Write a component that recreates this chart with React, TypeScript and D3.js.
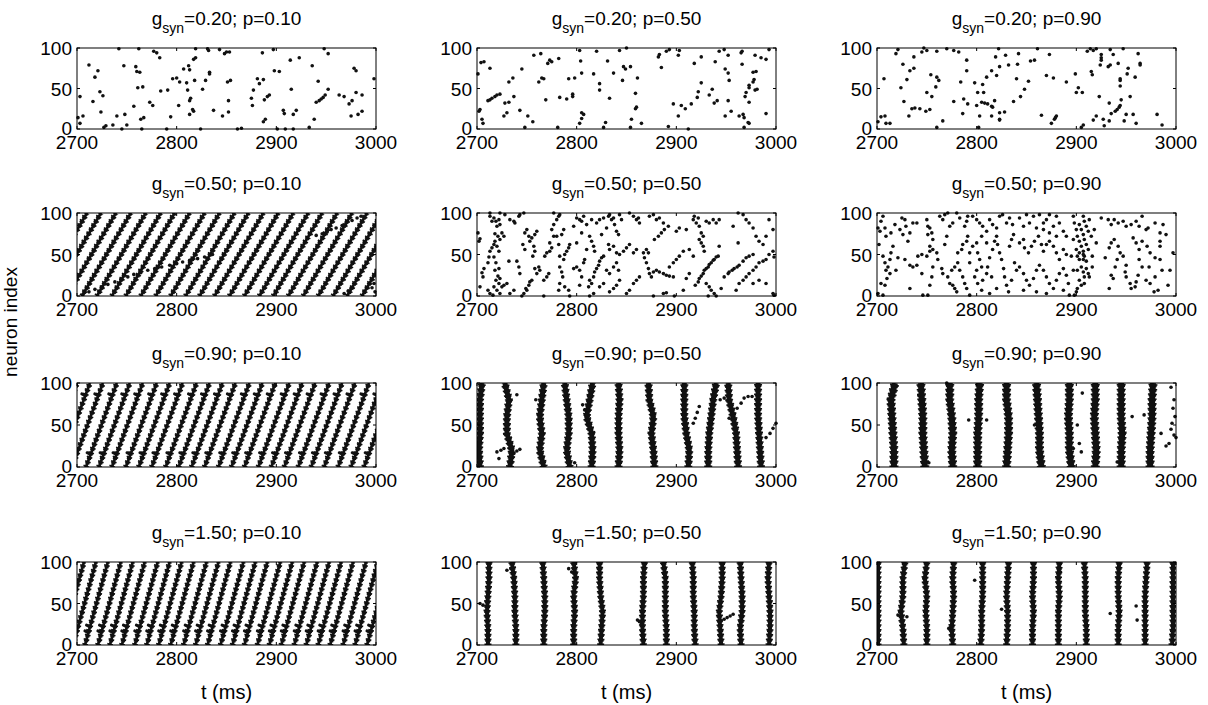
import React from "react";
import * as d3 from "d3";

// raster plots of neuron spikes, 4 coupling strengths x 3 rewiring probabilities
const gsynLabels = ["0.20", "0.50", "0.90", "1.50"];
const pLabels = ["0.10", "0.50", "0.90"];
const xTicks = [2700, 2800, 2900, 3000];
const yTicks = [0, 50, 100];
const burstLevels = [0, 20, 40, 60, 80, 100];

// --- sparse panels: spikes as [t (ms), neuron index] ---
const spikes_020_010 = [
  [2701,14],[2703,40],[2703,7],[2706,16],[2712,79],[2716,34],[2718,64],[2721,72],[2723,46],[2724,21],
  [2726,41],[2727,2],[2729,4],[2736,5],[2740,16],[2742,99],[2747,78],[2748,18],[2745,0],[2750,5],
  [2757,28],[2759,77],[2760,71],[2762,99],[2761,51],[2763,70],[2764,12],[2765,0],[2766,52],[2767,14],
  [2773,33],[2776,29],[2777,96],[2780,94],[2783,88],[2784,47],[2791,48],[2790,0],[2794,15],[2796,62],
  [2800,63],[2802,29],[2803,58],[2807,74],[2810,57],[2811,48],[2812,78],[2813,73],[2813,35],[2813,18],
  [2814,38],[2816,24],[2817,22],[2817,86],[2819,88],[2818,60],[2819,99],[2824,0],[2826,49],[2829,60],
  [2831,99],[2832,97],[2833,70],[2833,68],[2837,23],[2843,98],[2846,16],[2848,93],[2850,95],[2852,21],
  [2853,95],[2854,60],[2852,35],[2851,58],[2861,0],[2865,1],[2875,38],[2876,29],[2877,48],[2881,62],
  [2883,56],[2887,61],[2887,9],[2889,12],[2888,36],[2891,40],[2893,42],[2886,94],[2897,98],[2898,72],
  [2903,71],[2901,0],[2907,23],[2908,19],[2909,0],[2915,49],[2914,85],[2923,88],[2917,18],[2920,23],
  [2917,0],[2933,2],[2936,78],[2938,12],[2940,33],[2943,35],[2945,37],[2947,39],[2942,59],[2949,42],
  [2952,49],[2948,99],[2952,93],[2963,42],[2968,40],[2973,31],[2976,35],[2975,16],[2978,75],[2980,72],
  [2980,45],[2982,18],[2986,22],[2986,42],[2998,62],
];

const spikes_020_050 = [
  [2701,68],[2702,22],[2703,24],[2704,82],[2707,83],[2705,12],[2706,7],[2713,75],[2711,35],[2713,36],
  [2715,38],[2718,40],[2720,42],[2723,43],[2727,16],[2730,20],[2728,32],[2732,33],[2732,58],[2736,63],
  [2737,40],[2743,23],[2745,74],[2748,2],[2751,16],[2756,9],[2757,91],[2762,58],[2764,93],[2765,63],
  [2767,62],[2769,36],[2771,81],[2773,85],[2775,83],[2782,87],[2781,2],[2783,39],[2790,37],[2792,62],
  [2796,40],[2796,43],[2798,63],[2803,97],[2803,7],[2805,13],[2805,20],[2807,18],[2804,84],[2805,69],
  [2817,68],[2820,96],[2823,56],[2823,48],[2827,2],[2829,8],[2831,84],[2833,38],[2837,69],[2843,97],
  [2846,60],[2847,77],[2849,74],[2850,100],[2854,77],[2855,12],[2854,2],[2859,44],[2859,25],[2860,27],
  [2861,63],[2865,7],[2882,89],[2883,92],[2885,76],[2890,96],[2893,98],[2892,3],[2897,31],[2903,97],
  [2902,91],[2902,16],[2905,29],[2909,25],[2912,0],[2915,31],[2918,81],[2922,46],[2921,39],[2925,89],
  [2925,57],[2933,42],[2936,49],[2938,32],[2941,35],[2939,83],[2943,96],[2948,98],[2952,91],[2949,74],
  [2952,69],[2952,35],[2953,60],[2949,16],[2955,22],[2963,16],[2965,94],[2966,96],[2966,80],[2967,18],
  [2968,14],[2968,2],[2969,40],[2972,8],[2973,7],[2970,45],[2973,51],[2973,54],[2973,33],[2977,58],
  [2978,61],[2977,70],[2980,71],[2979,48],[2981,49],[2979,91],[2985,88],[2990,86],[2990,19],[2993,98],
];

const spikes_020_090 = [
  [2701,9],[2704,15],[2708,16],[2709,7],[2713,7],[2707,62],[2719,93],[2721,98],[2726,80],[2724,51],
  [2727,34],[2730,61],[2732,16],[2733,72],[2735,25],[2737,75],[2737,89],[2738,26],[2743,25],[2745,95],
  [2747,100],[2749,22],[2750,97],[2750,45],[2753,24],[2754,67],[2755,40],[2760,2],[2759,52],[2760,96],
  [2760,64],[2762,60],[2766,10],[2770,99],[2777,97],[2782,95],[2777,34],[2784,58],[2786,19],[2787,37],
  [2790,85],[2790,72],[2791,31],[2798,57],[2800,29],[2802,2],[2801,45],[2803,16],[2805,33],[2806,55],
  [2807,45],[2808,32],[2810,64],[2811,31],[2815,28],[2815,72],[2815,16],[2816,27],[2818,35],[2819,89],
  [2820,66],[2822,99],[2823,77],[2823,20],[2823,12],[2823,11],[2828,21],[2829,91],[2832,79],[2837,34],
  [2840,62],[2841,80],[2842,93],[2844,40],[2848,49],[2852,59],[2854,84],[2858,85],[2861,99],[2865,17],
  [2870,66],[2873,92],[2875,7],[2877,63],[2878,12],[2879,14],[2880,16],[2890,58],[2899,68],[2900,45],
  [2902,51],[2906,45],[2905,2],[2907,5],[2911,96],[2914,99],[2915,71],[2916,67],[2917,97],[2920,99],
  [2917,11],[2920,16],[2923,40],[2925,92],[2925,88],[2925,85],[2924,79],[2927,12],[2928,4],[2932,77],
  [2934,79],[2934,98],[2933,32],[2933,10],[2935,19],[2937,92],[2939,22],[2941,24],[2943,27],[2942,81],
  [2944,29],[2944,62],[2944,53],[2944,60],[2945,36],[2947,99],[2948,10],[2950,18],[2951,68],[2952,75],
  [2954,40],[2957,18],[2959,64],[2960,7],[2962,93],[2964,81],[2964,79],[2981,18],[2986,5],
];

const spikes_050_050 = [
  [2701,76],[2702,66],[2703,69],[2705,28],[2706,23],[2703,11],[2707,33],[2711,40],[2711,7],[2713,3],
  [2712,47],[2713,54],[2715,58],[2717,62],[2713,96],[2715,90],[2717,94],[2719,90],[2720,84],[2722,92],
  [2718,75],[2721,72],[2723,68],[2718,66],[2720,60],[2722,54],[2717,47],[2719,40],[2722,33],[2718,31],
  [2721,24],[2719,19],[2722,15],[2717,11],[2720,7],[2723,3],[2716,1],[2723,21],[2725,11],[2727,13],
  [2730,15],[2723,86],[2725,76],[2727,72],[2728,98],[2723,100],[2713,100],
  [2733,92],[2737,90],[2738,88],[2742,96],[2743,98],[2747,100],[2746,62],[2748,76],[2750,80],[2752,72],
  [2753,66],[2755,70],[2757,60],[2758,54],[2756,48],[2758,33],[2760,27],[2762,35],[2763,31],[2755,19],
  [2752,13],[2749,9],[2747,3],[2745,0],[2750,7],[2753,17],[2743,27],[2742,35],[2740,42],[2748,56],
  [2758,74],[2760,78],[2737,7],[2733,3],[2767,0],[2732,42],
  [2767,19],[2770,23],[2772,27],[2768,48],[2770,52],[2773,54],[2775,58],[2773,64],[2777,72],[2775,80],
  [2777,86],[2780,92],[2782,96],[2783,98],[2777,100],[2780,72],[2782,62],[2783,48],[2783,35],[2785,29],
  [2786,23],[2783,15],[2782,7],[2787,44],[2788,50],[2790,54],[2792,58],[2793,62],[2785,74],[2787,80],
  [2788,11],[2792,7],[2793,0],[2797,33],[2800,35],[2803,31],[2800,94],[2803,92],[2805,90],[2807,96],
  [2797,84],[2805,76],[2800,64],[2808,44],[2807,40],[2810,56],[2805,23],[2803,13],
  [2812,11],[2813,19],[2815,15],[2817,23],[2818,29],[2820,33],[2822,37],[2817,3],[2813,0],[2823,42],
  [2825,46],[2827,48],[2813,72],[2815,66],[2817,60],[2818,54],[2820,88],[2823,92],[2827,94],[2815,92],
  [2810,86],[2825,74],[2830,82],[2832,96],[2833,98],[2835,92],[2837,94],[2838,86],[2840,78],[2842,74],
  [2843,98],[2845,92],[2832,62],[2833,56],[2837,60],[2840,52],[2843,50],[2847,54],[2850,58],[2853,62],
  [2830,31],[2833,27],[2837,35],[2840,40],[2842,31],[2843,19],[2840,13],[2837,9],[2833,5],[2823,11],
  [2827,15],[2857,15],[2860,19],[2863,23],[2853,7],[2850,3],[2857,52],[2860,56],[2857,96],[2860,92],
  [2862,94],[2863,88],[2853,100],
  [2867,52],[2868,46],[2870,40],[2872,33],[2873,27],[2875,23],[2877,29],[2872,52],[2870,56],[2873,96],
  [2877,98],[2880,92],[2883,94],[2887,88],[2878,68],[2882,72],[2885,76],[2888,80],[2892,84],[2880,31],
  [2883,29],[2887,27],[2890,25],[2893,24],[2897,23],[2887,3],[2890,4],[2893,35],[2897,40],[2900,44],
  [2903,48],[2907,54],[2900,78],[2903,82],[2910,80],[2907,7],[2910,21],[2913,27],[2898,0],[2877,0],
  [2913,56],
  [2917,92],[2918,96],[2920,88],[2922,94],[2923,84],[2925,76],[2927,72],[2923,68],[2925,64],[2927,60],
  [2928,54],[2930,90],[2933,88],[2937,92],[2940,88],[2943,92],[2919,13],[2922,17],[2923,21],[2925,24],
  [2927,27],[2928,31],[2930,33],[2932,35],[2933,38],[2935,40],[2937,43],[2938,44],[2940,47],[2942,48],
  [2930,15],[2933,11],[2935,7],[2938,3],[2940,0],[2932,0],[2945,9],[2948,23],[2952,27],[2953,29],
  [2956,31],[2917,48],[2943,60],
  [2958,33],[2961,35],[2963,37],[2967,42],[2970,46],[2973,48],[2977,50],[2963,15],[2967,19],[2970,23],
  [2973,27],[2977,31],[2980,35],[2983,40],[2987,42],[2990,44],[2993,50],[2997,54],[2998,47],[2960,7],
  [2967,98],[2970,92],[2973,88],[2977,82],[2980,72],[2983,66],[2987,62],[2990,72],[2993,92],[2997,80],
  [2957,84],[2962,64],[2977,15],[2983,19],[2990,15],[2997,3],[2998,1],[2962,100],
];

const spikes_050_090 = [
  [2701,82],[2703,78],[2702,62],[2704,90],[2706,96],[2708,82],[2709,72],[2706,48],[2708,40],[2709,31],
  [2711,35],[2713,27],[2710,21],[2704,15],[2708,13],[2701,3],[2706,1],[2713,44],[2714,52],[2716,60],
  [2714,76],[2718,86],[2723,80],[2726,74],[2729,84],[2728,92],[2725,94],[2733,76],[2736,88],[2740,88],
  [2731,66],[2721,46],[2719,31],[2733,9],[2736,35],[2740,37],[2741,48],[2745,50],[2733,37],[2728,44],
  [2745,27],[2746,1],
  [2750,92],[2751,84],[2753,82],[2755,76],[2751,74],[2756,68],[2753,60],[2750,48],[2753,54],[2756,56],
  [2760,52],[2761,44],[2756,35],[2755,23],[2753,13],[2751,1],[2763,96],[2766,92],[2768,98],[2771,100],
  [2773,84],[2776,88],[2770,72],[2768,62],[2765,33],[2766,27],[2771,23],[2773,15],[2776,13],[2778,9],
  [2780,5],[2775,31],[2778,35],[2781,40],[2783,31],[2786,23],[2788,15],[2790,9],[2781,52],[2785,56],
  [2786,62],[2790,66],[2791,72],[2788,84],[2790,90],[2791,96],[2783,94],[2780,100],[2793,52],[2793,40],
  [2793,1],
  [2796,96],[2800,92],[2803,88],[2806,84],[2810,78],[2813,92],[2816,86],[2820,82],[2823,96],[2826,98],
  [2830,88],[2833,94],[2836,86],[2796,60],[2800,64],[2801,52],[2803,44],[2805,35],[2800,31],[2798,23],
  [2801,15],[2805,7],[2806,19],[2810,27],[2811,35],[2813,46],[2816,56],[2818,66],[2820,72],[2821,62],
  [2823,52],[2825,44],[2827,33],[2828,23],[2830,13],[2832,5],[2813,3],[2820,9],[2833,60],[2835,68],
  [2837,74],[2838,40],[2840,31],[2810,64],[2815,23],[2805,72],[2835,19],
  [2843,94],[2847,84],[2850,98],[2853,88],[2857,96],[2860,82],[2863,98],[2867,88],[2870,92],[2873,98],
  [2877,84],[2880,96],[2883,88],[2887,78],[2890,72],[2843,64],[2847,68],[2848,58],[2852,52],[2855,60],
  [2858,66],[2862,72],[2865,62],[2867,54],[2870,62],[2873,66],[2877,60],[2880,52],[2883,44],[2887,56],
  [2890,50],[2843,35],[2847,27],[2850,19],[2853,13],[2857,21],[2860,31],[2863,37],[2867,31],[2870,23],
  [2873,15],[2877,9],[2880,19],[2883,27],[2887,33],[2890,25],[2892,15],[2847,7],[2860,5],[2870,3],
  [2887,7],[2893,1],[2867,80],[2873,76],[2880,72],
  [2897,96],[2898,88],[2900,80],[2901,72],[2903,66],[2905,60],[2907,54],[2908,48],[2910,42],[2907,96],
  [2908,90],[2910,84],[2912,78],[2907,74],[2903,86],[2905,80],[2908,68],[2910,62],[2912,56],[2907,44],
  [2905,35],[2907,29],[2908,23],[2903,19],[2905,13],[2901,9],[2900,5],[2898,1],[2910,33],[2912,27],
  [2908,15],[2907,50],[2903,44],[2901,31],[2913,92],[2915,72],[2916,48],[2913,23],[2897,31],[2895,48],
  [2897,68],[2918,80],[2920,64],[2916,35],[2900,56],[2901,48],[2903,52],
  [2925,94],[2932,92],[2935,86],[2938,92],[2942,88],[2947,90],[2950,84],[2955,86],[2960,90],[2963,84],
  [2966,96],[2970,80],[2972,82],[2979,88],[2984,76],[2987,86],[2990,74],[2929,46],[2933,58],[2935,64],
  [2938,68],[2942,60],[2944,52],[2941,44],[2939,35],[2935,25],[2937,21],[2947,48],[2950,37],[2949,29],
  [2950,23],[2954,15],[2955,9],[2959,11],[2960,17],[2962,25],[2933,9],[2957,70],[2960,64],[2963,56],
  [2966,66],[2971,60],[2974,52],[2979,46],[2984,44],[2984,60],[2984,66],[2986,31],[2979,23],[2974,15],
  [2970,19],[2978,5],[2982,7],[2994,31],[2992,13],[2973,35],[2966,35],[2963,44],[2997,52],
];

// --- travelling waves: onset time at neuron 0 and sweep time to neuron 100 ---
const waveOnsets_050_010 = [
  2661, 2675, 2690, 2705, 2720, 2735, 2749, 2764, 2779, 2794, 2809, 2823,
  2838, 2853, 2868, 2883, 2897, 2912, 2927, 2942, 2957, 2971, 2986,
];
const waveSweep_050_010 = 49;
const waveExtra_050_010 = [
  [2706,2],[2712,5],[2718,8],[2725,11],[2731,14],[2738,17],[2744,20],[2751,23],[2757,26],[2764,28],
  [2771,31],[2778,33],[2785,35],[2793,37],[2800,39],[2806,41],[2813,43],[2821,45],[2828,47],[2836,50],
  [2940,73],[2946,75],[2951,77],[2955,80],[2960,82],[2966,85],[2970,88],[2976,91],[2981,94],[2985,96],
  [2968,3],[2972,6],[2975,9],[2998,15],[2996,10],[2999,5],
];

const waveOnsets_090_010 = [
  2669, 2682, 2695, 2709, 2722, 2735, 2749, 2762, 2775, 2789, 2802, 2815, 2828,
  2842, 2855, 2868, 2882, 2895, 2908, 2922, 2935, 2948, 2962, 2975, 2988,
];
const waveSweep_090_010 = 31;

const waveOnsets_150_010 = [
  2671, 2684, 2696, 2708, 2721, 2733, 2745, 2758, 2770, 2782, 2794, 2807, 2819, 2831,
  2844, 2856, 2868, 2881, 2893, 2905, 2918, 2930, 2942, 2954, 2967, 2979, 2991,
];
const waveSweep_150_010 = 23;

// --- synchronous bursts: spike time of the burst at neuron levels burstLevels ---
const bursts_090_050 = [
  [2703, 2702, 2703, 2703, 2703, 2705],
  [2733, 2735, 2730, 2730, 2732, 2728],
  [2767, 2763, 2765, 2763, 2765, 2767],
  [2793, 2790, 2792, 2792, 2790, 2788],
  [2815, 2816, 2815, 2810, 2813, 2816],
  [2842, 2843, 2842, 2842, 2843, 2842],
  [2878, 2877, 2875, 2877, 2873, 2872],
  [2912, 2913, 2910, 2908, 2908, 2908],
  [2932, 2932, 2933, 2935, 2937, 2940],
  [2962, 2961, 2960, 2957, 2953, 2952],
  [2985, 2984, 2983, 2982, 2982, 2982],
];
const burstExtra_090_050 = [
  [2720,18],[2724,20],[2727,22],[2737,16],[2740,19],[2743,21],[2722,10],[2917,52],[2919,58],[2921,65],
  [2923,72],[2953,58],[2957,64],[2961,70],[2965,76],[2968,82],[2972,84],[2976,84],[2990,35],[2994,40],
  [2997,46],[3000,52],[2944,80],[2948,82],[2808,68],[2806,74],[2812,72],[2798,5],[2759,80],[2740,86],
];

const bursts_090_090 = [
  [2717, 2717, 2716, 2715, 2714, 2718],
  [2748, 2747, 2746, 2746, 2745, 2744],
  [2776, 2775, 2776, 2775, 2773, 2773],
  [2801, 2801, 2801, 2802, 2802, 2803],
  [2830, 2831, 2832, 2832, 2830, 2830],
  [2865, 2863, 2863, 2862, 2861, 2860],
  [2895, 2893, 2893, 2892, 2893, 2893],
  [2919, 2920, 2919, 2918, 2919, 2919],
  [2945, 2945, 2946, 2945, 2945, 2945],
  [2974, 2974, 2975, 2976, 2976, 2977],
];
const burstExtra_090_090 = [
  [2995,95],[2998,80],[2997,70],[2999,60],[2996,52],[2995,45],[2998,38],[2990,25],[2985,40],[2993,28],
  [3000,35],[2897,22],[2903,28],[2905,18],[2901,50],[2906,88],[2752,5],[2742,85],[2770,100],[2792,56],
  [2810,56],[2858,50],[2956,60],[2968,62],[2941,6],
];

const bursts_150_050 = [
  [2711, 2711, 2710, 2711, 2712, 2712],
  [2739, 2739, 2738, 2738, 2737, 2735],
  [2767, 2767, 2768, 2768, 2767, 2766],
  [2797, 2797, 2798, 2797, 2799, 2797],
  [2824, 2825, 2826, 2824, 2823, 2823],
  [2867, 2866, 2866, 2867, 2867, 2868],
  [2890, 2890, 2889, 2889, 2889, 2887],
  [2919, 2918, 2918, 2917, 2917, 2916],
  [2945, 2944, 2943, 2945, 2946, 2946],
  [2965, 2964, 2966, 2966, 2965, 2964],
  [2993, 2994, 2994, 2993, 2992, 2993],
];
const burstExtra_150_050 = [
  [2703,50],[2706,48],[2861,30],[2863,28],[2865,25],[2945,29],[2948,31],[2951,33],[2954,35],[2957,37],
  [2792,92],[2795,88],[2734,92],[2730,90],
];

const bursts_150_090 = [
  [2701, 2701, 2701, 2701, 2701, 2701],
  [2727, 2726, 2724, 2726, 2726, 2728],
  [2750, 2750, 2749, 2750, 2748, 2750],
  [2776, 2775, 2776, 2777, 2776, 2777],
  [2804, 2805, 2805, 2806, 2806, 2806],
  [2830, 2831, 2831, 2830, 2831, 2832],
  [2856, 2856, 2857, 2856, 2857, 2857],
  [2882, 2882, 2882, 2883, 2882, 2883],
  [2910, 2910, 2909, 2909, 2909, 2908],
  [2942, 2942, 2943, 2942, 2942, 2943],
  [2969, 2969, 2969, 2969, 2970, 2971],
  [2996, 2997, 2997, 2997, 2997, 2997],
];
const burstExtra_150_090 = [
  [2721,36],[2730,34],[2723,40],[2798,78],[2825,43],[2772,20],[2934,38],[2960,47],[2961,30],[2884,88],
];

type Pt = number[];
type Spec =
  | { kind: "dots"; dots: Pt[] }
  | { kind: "waves"; onsets: number[]; sweep: number; jogs: number[]; extra: Pt[] }
  | { kind: "bursts"; bursts: number[][]; width: number; extra: Pt[] };

const specs: Spec[][] = [
  [
    { kind: "dots", dots: spikes_020_010 },
    { kind: "dots", dots: spikes_020_050 },
    { kind: "dots", dots: spikes_020_090 },
  ],
  [
    { kind: "waves", onsets: waveOnsets_050_010, sweep: waveSweep_050_010, jogs: [], extra: waveExtra_050_010 },
    { kind: "dots", dots: spikes_050_050 },
    { kind: "dots", dots: spikes_050_090 },
  ],
  [
    { kind: "waves", onsets: waveOnsets_090_010, sweep: waveSweep_090_010, jogs: [15, 85], extra: [] },
    { kind: "bursts", bursts: bursts_090_050, width: 5, extra: burstExtra_090_050 },
    { kind: "bursts", bursts: bursts_090_090, width: 6, extra: burstExtra_090_090 },
  ],
  [
    { kind: "waves", onsets: waveOnsets_150_010, sweep: waveSweep_150_010, jogs: [15, 22], extra: [] },
    { kind: "bursts", bursts: bursts_150_050, width: 4, extra: burstExtra_150_050 },
    { kind: "bursts", bursts: bursts_150_090, width: 4, extra: burstExtra_150_090 },
  ],
];

const FONT = "'Liberation Sans', Arial, Helvetica, sans-serif";
const INK = "#111";
const colLeft = [77, 477, 877];
const panelW = 299;
const rowTop = [48, 213, 383, 562];
const rowH = [81, 83, 84, 83];
const R = 1.8;

// a band of spikes: solid core plus a ragged dashed fringe
function Band({ d, w }: { d: string; w: number }) {
  return (
    <g fill="none" stroke={INK} strokeLinejoin="round">
      <path d={d} strokeWidth={w + 3} strokeDasharray="1.6 3.2" />
      <path d={d} strokeWidth={w + 1.6} strokeDasharray="2.2 2.6" strokeDashoffset={1.5} />
      <path d={d} strokeWidth={w} />
    </g>
  );
}

function Panel({ r, c }: { r: number; c: number }) {
  const x0 = colLeft[c];
  const y0 = rowTop[r];
  const h = rowH[r];
  const spec = specs[r][c];
  const xs = d3.scaleLinear().domain([2700, 3000]).range([x0, x0 + panelW]);
  const ys = d3.scaleLinear().domain([0, 100]).range([y0 + h, y0]);
  const line = d3.line<Pt>().x((d) => xs(d[0])).y((d) => ys(d[1]));
  const clipId = `clip-${r}-${c}`;
  const dotClip = `dclip-${r}-${c}`;

  const dots: Pt[] = spec.kind === "dots" ? spec.dots : spec.extra;

  return (
    <g>
      <defs>
        <clipPath id={clipId}>
          <rect x={x0} y={y0} width={panelW} height={h} />
        </clipPath>
        <clipPath id={dotClip}>
          <rect x={x0 - 2} y={y0 - 2} width={panelW + 4} height={h + 4} />
        </clipPath>
      </defs>
      <rect x={x0} y={y0} width={panelW} height={h} fill="#fff" />
      <g clipPath={`url(#${clipId})`}>
        {spec.kind === "waves" &&
          spec.onsets.map((t0, i) => (
            <g key={i}>
              <Band d={line([[t0, 0], [t0 + spec.sweep, 100]]) || ""} w={2.8} />
              {spec.jogs.map((lv, j) => {
                const tc = t0 + (spec.sweep * lv) / 100;
                return (
                  <path
                    key={j}
                    d={line([[tc - 3.5, lv + 2], [tc, lv]]) || ""}
                    stroke={INK}
                    strokeWidth={3}
                    strokeLinecap="round"
                    fill="none"
                  />
                );
              })}
            </g>
          ))}
        {spec.kind === "bursts" &&
          spec.bursts.map((b, i) => (
            <Band key={i} d={line(b.map((t, k) => [t, burstLevels[k]])) || ""} w={spec.width} />
          ))}
      </g>
      <g clipPath={`url(#${dotClip})`}>
        {dots.map((d, i) => (
          <circle key={i} cx={xs(d[0])} cy={ys(d[1])} r={R} fill={INK} />
        ))}
      </g>
      <rect x={x0} y={y0} width={panelW} height={h} fill="none" stroke="#000" strokeWidth={1} />
      {xTicks.map((t) => (
        <g key={t}>
          <line x1={xs(t)} x2={xs(t)} y1={y0 + h} y2={y0 + h - 3} stroke="#000" />
          <line x1={xs(t)} x2={xs(t)} y1={y0} y2={y0 + 3} stroke="#000" />
          <text x={xs(t)} y={y0 + h + 20} textAnchor="middle" fontSize={19} fontFamily={FONT}>
            {t}
          </text>
        </g>
      ))}
      {yTicks.map((n) => (
        <g key={n}>
          <line x1={x0} x2={x0 + 3} y1={ys(n)} y2={ys(n)} stroke="#000" />
          <line x1={x0 + panelW} x2={x0 + panelW - 3} y1={ys(n)} y2={ys(n)} stroke="#000" />
          <text x={x0 - 5} y={ys(n) + (n === 0 ? 6 : 7)} textAnchor="end" fontSize={19} fontFamily={FONT}>
            {n}
          </text>
        </g>
      ))}
      <text x={x0 + panelW / 2} y={y0 - 23} textAnchor="middle" fontSize={19} fontFamily={FONT}>
        g
        <tspan fontSize={14} dy={8}>syn</tspan>
        <tspan dy={-8}>{`=${gsynLabels[r]}; p=${pLabels[c]}`}</tspan>
      </text>
      {r === 3 && (
        <text x={x0 + panelW / 2} y={y0 + h + 54} textAnchor="middle" fontSize={20} fontFamily={FONT}>
          t (ms)
        </text>
      )}
    </g>
  );
}

export default function App() {
  return (
    <svg
      width={1208}
      height={705}
      style={{ display: "block", position: "absolute", left: 0, top: 0, background: "#fff" }}
    >
      <rect width={1208} height={705} fill="#fff" />
      {rowTop.map((_, r) => pLabels.map((_, c) => <Panel key={`${r}-${c}`} r={r} c={c} />))}
      <text transform="translate(17,322) rotate(-90)" textAnchor="middle" fontSize={19} fontFamily={FONT}>
        neuron index
      </text>
    </svg>
  );
}
